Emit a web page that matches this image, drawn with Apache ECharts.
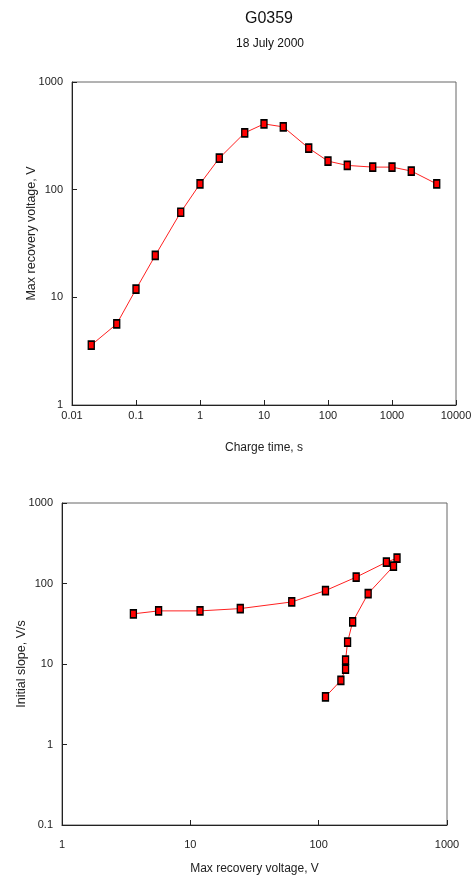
<!DOCTYPE html>
<html><head><meta charset="utf-8">
<script src="https://cdn.jsdelivr.net/npm/echarts@6/dist/echarts.min.js"></script>
<style>html,body{margin:0;padding:0;background:#fff}#c{width:472px;height:877px}</style>
</head><body><div id="c"></div>
<script>
var chartTitle = 'G0359';
var chartSubtitle = '18 July 2000';
var chargeTime = [0.02, 0.05, 0.1, 0.2, 0.5, 1, 2, 5, 10, 20, 50, 100, 200, 500, 1000, 2000, 5000];
var maxVoltage = [3.6, 5.66, 11.9, 24.5, 61.7, 113, 196, 337, 408, 383, 243, 184, 168, 162, 162, 149, 113];
var initialSlope = [42, 45.7, 45.7, 48.8, 59, 81.6, 120, 184, 206, 164, 75, 33.4, 18.7, 11.2, 8.65, 6.25, 3.91];

var FN = '"Liberation Sans", Arial, sans-serif';
var fmt = function (v) { return String(+v.toPrecision(6)); };

function axisBase(min, max, name, gap, lblMargin, nameSize, namePad) {
  return {
    type: 'log', logBase: 10, min: min, max: max, name: name,
    nameLocation: 'middle', nameGap: gap, nameMoveOverlap: false,
    nameTextStyle: { fontFamily: FN, fontSize: nameSize, color: '#222', padding: namePad || 0 },
    axisLine: { show: true, lineStyle: { color: '#222', width: 1 } },
    axisTick: { show: true, inside: true, length: 5, lineStyle: { color: '#222' } },
    minorTick: { show: false },
    splitLine: { show: false },
    axisLabel: { fontFamily: FN, fontSize: 11, color: '#222', margin: lblMargin, formatter: fmt }
  };
}

var chart = echarts.init(document.getElementById('c'), null, { renderer: 'canvas' });
var sym = {
  type: 'line', symbol: 'rect', symbolSize: [6, 8], showAllSymbol: true,
  lineStyle: { color: '#ff2020', width: 1 },
  itemStyle: { color: '#ff0000', borderColor: '#000', borderWidth: 1.5 },
  animation: false
};

chart.setOption({
  animation: false,
  title: [
    { text: chartTitle, left: 264, top: 6, textAlign: 'center',
      textStyle: { fontFamily: FN, fontSize: 16, fontWeight: 'normal', color: '#111' } },
    { text: chartSubtitle, left: 265, top: 33, textAlign: 'center',
      textStyle: { fontFamily: FN, fontSize: 12, fontWeight: 'normal', color: '#111' } }
  ],
  grid: [
    { left: 72, right: 16, top: 82, bottom: 472, show: true, borderColor: '#666', borderWidth: 1,
      outerBoundsMode: 'none', containLabel: false },
    { left: 62, right: 25, top: 503, bottom: 52, show: true, borderColor: '#666', borderWidth: 1,
      outerBoundsMode: 'none', containLabel: false }
  ],
  xAxis: [
    Object.assign(axisBase(0.01, 10000, 'Charge time, s', 37, 5, 12), { gridIndex: 0 }),
    Object.assign(axisBase(1, 1000, 'Max recovery voltage, V', 38, 14, 12), { gridIndex: 1 })
  ],
  yAxis: [
    Object.assign(axisBase(1, 1000, 'Max recovery voltage, V', 34, 9, 12.5, [0, 0, 0, 20]), { gridIndex: 0 }),
    Object.assign(axisBase(0.1, 1000, 'Initial slope, V/s', 34, 9, 12.5), { gridIndex: 1 })
  ],
  series: [
    Object.assign({}, sym, { xAxisIndex: 0, yAxisIndex: 0,
      data: chargeTime.map(function (t, i) { return [t, maxVoltage[i]]; }) }),
    Object.assign({}, sym, { xAxisIndex: 1, yAxisIndex: 1,
      data: maxVoltage.map(function (v, i) { return [v, initialSlope[i]]; }) })
  ]
});
</script></body></html>
